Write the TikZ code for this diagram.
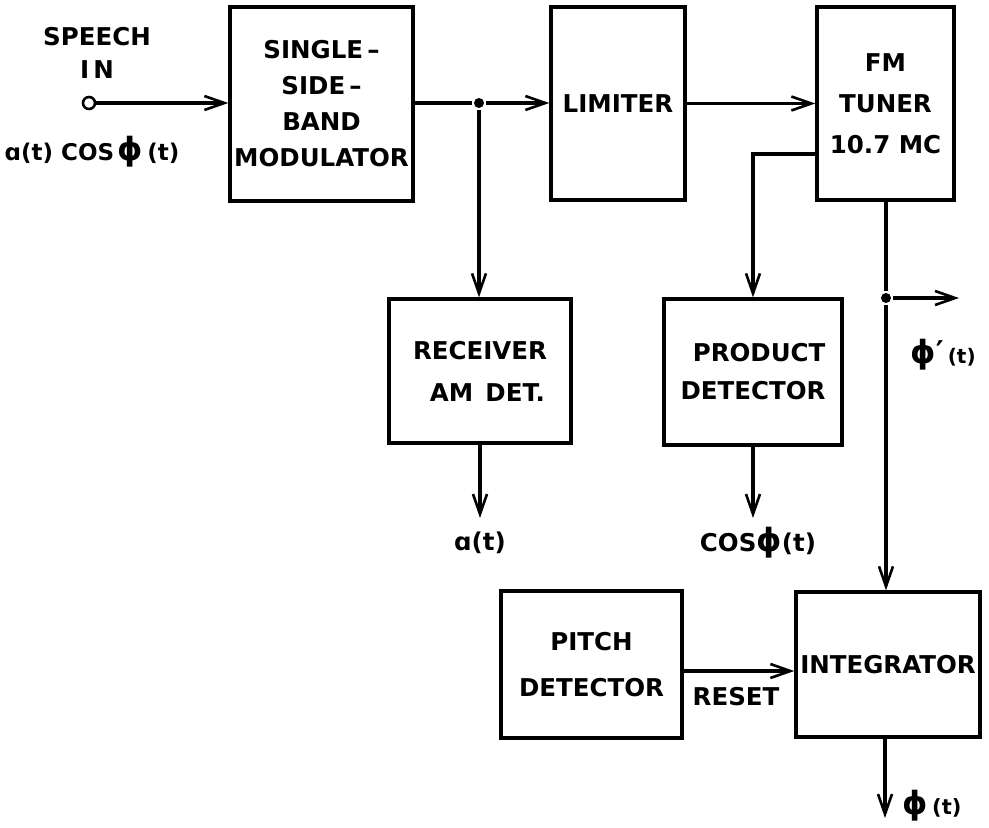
\documentclass[tikz,border=0pt]{standalone}
\usepackage{fontspec}
\setmainfont{DejaVu Sans}
\usetikzlibrary{arrows.meta,calc}
\newcommand\dphi{{\fontsize{32}{32}\selectfont ϕ}}
\begin{document}
\begin{tikzpicture}[x=1pt,y=-1pt,line width=3.2pt,
  blk/.style={draw,rectangle,line width=3.4pt,inner sep=0pt,align=center},
  lab/.style={inner sep=0pt,font=\fontsize{24.5}{28}\selectfont\bfseries},
  arr/.style={-{Straight Barb[length=20pt,width=14pt,line width=2.6pt]}},
  dot/.style={circle,fill,inner sep=0pt,minimum size=10pt}]
\useasboundingbox (0,0) rectangle (989,828);
% blocks
\node[blk,minimum width=183pt,minimum height=194pt,font=\fontsize{24.5}{36}\selectfont\bfseries] (ssb) at (321.5,104) {SINGLE\,–\\SIDE\,–\\BAND\\MODULATOR};
\node[blk,minimum width=134pt,minimum height=193pt,font=\fontsize{24.5}{28}\selectfont\bfseries] (lim) at (618,103.5) {LIMITER};
\node[blk,minimum width=137pt,minimum height=193pt,font=\fontsize{24.5}{41}\selectfont\bfseries] (fm) at (885.5,103.5) {FM\\TUNER\\10.7 MC};
\node[blk,minimum width=182pt,minimum height=144pt,font=\fontsize{24.5}{42}\selectfont\bfseries] (rcv) at (480,371) {RECEIVER\\\hspace*{0.6em}AM\enspace DET.};
\node[blk,minimum width=178pt,minimum height=146pt,font=\fontsize{24.5}{38}\selectfont\bfseries] (pd) at (753,372) {\hspace*{0.5em}PRODUCT\\DETECTOR};
\node[blk,minimum width=181pt,minimum height=147pt,font=\fontsize{24.5}{46}\selectfont\bfseries] (pit) at (591.5,664.5) {PITCH\\DETECTOR};
\node[blk,minimum width=184pt,minimum height=145pt,font=\fontsize{24.5}{28}\selectfont\bfseries] (int) at (888,664.5) {INTEGRATOR};
% input
\node[lab] (sp) at (97,37) {SPEECH};
\node[lab] (inl) at (97,70) {I\,N};
\node[circle,draw,line width=2.6pt,minimum size=12pt,inner sep=0pt] (in) at (89,103) {};
\node[lab,font=\fontsize{23}{28}\selectfont\bfseries] (inlab) at (92,152) {ɑ(t) COS\,\dphi\,(t)};
\draw[arr] (in) -- (in -| ssb.west);
% junction after SSB
\node[dot] (j1) at (479,103) {};
\draw (ssb.east |- j1) -- (j1);
\draw[arr] (j1) -- (j1 -| lim.west);
\draw[arr] (j1) -- (j1 |- rcv.north);
\draw[arr] (lim) -- (fm);
% FM to product detector
\coordinate (fmout) at ([yshift=-50.5pt]fm.west);
\draw[arr] (fmout) -| (pd.north);
% FM output
\node[dot] (j2) at (886,298) {};
\coordinate (phip) at (959,298);
\draw (fm.south -| j2) -- (j2);
\draw[arr] (j2) -- (phip);
\draw[arr] (j2) -- (j2 |- int.north);
\node[lab] (phiplab) at (943,355) {\dphi{\fontsize{30}{30}\selectfont\raisebox{1pt}{′}}\,{\fontsize{20}{20}\selectfont(t)}};
% detector outputs
\coordinate (aout) at (480,518);
\draw[arr] (rcv) -- (aout);
\node[lab] (alab) at (480,543) {ɑ(t)};
\coordinate (cout) at (753,518);
\draw[arr] (pd) -- (cout);
\node[lab] (clab) at (758,543) {COS\dphi(t)};
% reset
\coordinate (rs) at (pit.east |- 0,671);
\draw[arr] (rs) -- (rs -| int.west);
\node[lab] (reset) at (736,697) {RESET};
% integrator output
\coordinate (phiout) at (885,818);
\draw[arr] (int.south -| phiout) -- (phiout);
\node[lab] (philab) at (932,806) {\dphi\,{\fontsize{21}{21}\selectfont(t)}};
\end{tikzpicture}
\end{document}
